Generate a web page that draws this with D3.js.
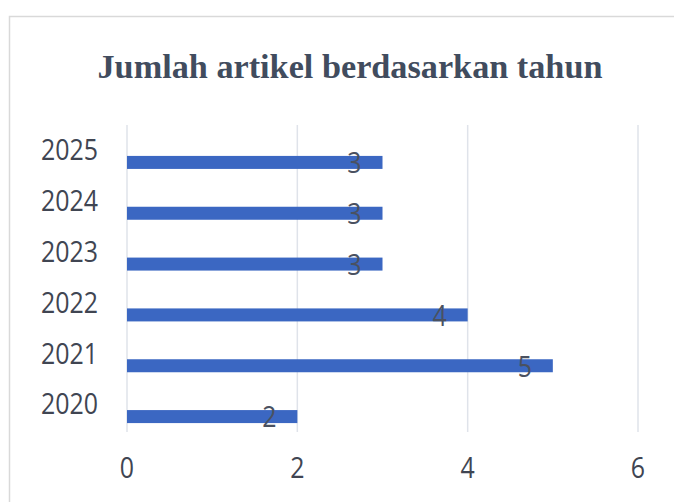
<!DOCTYPE html>
<html>
<head>
<meta charset="utf-8">
<script src="https://cdn.jsdelivr.net/npm/d3@7"></script>
<style>
  body { margin: 0; background: #fff; }
  svg { display: block; }
</style>
</head>
<body>
<div id="chart"></div>
<script>
const years = ["2025", "2024", "2023", "2022", "2021", "2020"];
const counts = [3, 3, 3, 4, 5, 2];
const x_ticks = [0, 2, 4, 6];
const title = "Jumlah artikel berdasarkan tahun";

const width = 674, height = 502;
const num_font = "'Open Sans', sans-serif";
const squeeze = 0.86; // the original's digits look tall and narrow

const svg = d3.select("#chart").append("svg")
  .attr("width", width)
  .attr("height", height);

// chart frame (partly outside the picture, like the cropped original)
svg.append("rect")
  .attr("x", 9.5).attr("y", 16.5)
  .attr("width", 700).attr("height", 520)
  .attr("fill", "#fff")
  .attr("stroke", "#d9d9d9")
  .attr("stroke-width", 1.5);

svg.append("text")
  .attr("x", 350)
  .attr("y", 78)
  .attr("text-anchor", "middle")
  .attr("textLength", 505)
  .attr("lengthAdjust", "spacingAndGlyphs")
  .style("font-family", "'Liberation Serif', serif")
  .style("font-weight", "bold")
  .style("font-size", "33px")
  .attr("fill", "#414c5e")
  .text(title);

const x = d3.scaleLinear().domain([0, 6]).range([127, 638]);
const y = d3.scaleBand().domain(years).range([137, 442]);

// vertical gridlines
svg.append("g")
  .selectAll("line")
  .data(x_ticks)
  .join("line")
  .attr("x1", d => x(d)).attr("x2", d => x(d))
  .attr("y1", 125).attr("y2", 432)
  .attr("stroke", "#dfe3ea")
  .attr("stroke-width", 1.5);

const bar_h = 13;
const rows = years.map((yr, i) => ({ year: yr, value: counts[i] }));

svg.append("g")
  .selectAll("rect")
  .data(rows)
  .join("rect")
  .attr("x", x(0))
  .attr("y", d => y(d.year) + y.bandwidth() / 2 - bar_h / 2)
  .attr("width", d => x(d.value) - x(0))
  .attr("height", bar_h)
  .attr("fill", "#3b67c2");

function numText(sel, fill) {
  sel.attr("dominant-baseline", "middle")
    .style("font-family", num_font)
    .style("font-size", "29px")
    .attr("fill", fill);
}

// value labels
svg.append("g")
  .selectAll("text")
  .data(rows)
  .join("text")
  .attr("transform", d => `translate(${x(d.value) - 28},${y(d.year) + y.bandwidth() / 2 + 3}) scale(${squeeze},1)`)
  .attr("text-anchor", "middle")
  .call(numText, "#4a5160")
  .text(d => d.value);

// category labels
svg.append("g")
  .selectAll("text")
  .data(years)
  .join("text")
  .attr("transform", d => `translate(98,${y(d) + y.bandwidth() / 2 - 10}) scale(${squeeze},1)`)
  .attr("text-anchor", "end")
  .call(numText, "#404552")
  .text(d => d);

// x tick labels
svg.append("g")
  .selectAll("text")
  .data(x_ticks)
  .join("text")
  .attr("transform", d => `translate(${x(d)},470) scale(${squeeze},1)`)
  .attr("text-anchor", "middle")
  .call(numText, "#404552")
  .text(d => d);
</script>
</body>
</html>
